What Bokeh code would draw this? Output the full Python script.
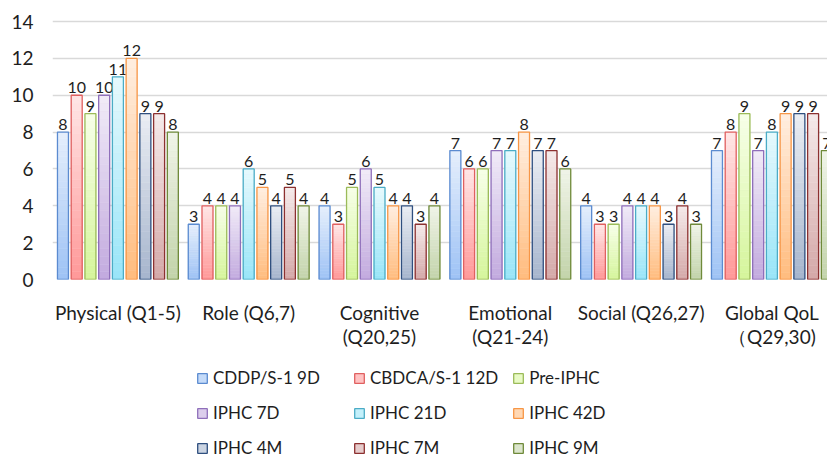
import numpy as np
from bokeh.plotting import figure
from bokeh.layouts import column
from bokeh.models import FixedTicker, Legend, LegendItem, Range1d, ColumnDataSource
from bokeh.embed import file_html
from bokeh.resources import INLINE
from bokeh.core.properties import value

# ---------------- data ----------------
categories = ["Physical (Q1-5)", "Role (Q6,7)", "Cognitive\n(Q20,25)",
              "Emotional\n(Q21-24)", "Social (Q26,27)", "Global QoL\n\uff08Q29,30)"]
series_names = ["CDDP/S-1 9D", "CBDCA/S-1 12D", "Pre-IPHC",
                "IPHC 7D", "IPHC 21D", "IPHC 42D",
                "IPHC 4M", "IPHC 7M", "IPHC 9M"]
cddp_s1_9d = [8, 3, 4, 7, 4, 7]
cbdca_s1_12d = [10, 4, 3, 6, 3, 8]
pre_iphc = [9, 4, 5, 6, 3, 9]
iphc_7d = [10, 4, 6, 7, 4, 7]
iphc_21d = [11, 6, 5, 7, 4, 8]
iphc_42d = [12, 5, 4, 8, 4, 9]
iphc_4m = [9, 4, 4, 7, 3, 9]
iphc_7m = [9, 5, 3, 7, 4, 9]
iphc_9m = [8, 4, 4, 6, 3, 7]
series_values = [cddp_s1_9d, cbdca_s1_12d, pre_iphc, iphc_7d, iphc_21d,
                 iphc_42d, iphc_4m, iphc_7m, iphc_9m]
y_ticks = [0, 2, 4, 6, 8, 10, 12, 14]

# ---------------- styles ----------------
# (top colour, bottom colour, outline)
styles = [
    ("#e6effc", "#9dc2f5", "#5b8bd0"),
    ("#ffe6e6", "#ff9898", "#e06060"),
    ("#f7ffe8", "#d5f59b", "#9bbb59"),
    ("#f1ebf8", "#c2aade", "#8f6fba"),
    ("#e6f9fd", "#98e5f8", "#4bacc6"),
    ("#ffeee0", "#ffbc7e", "#f79646"),
    ("#eaedf3", "#a6b5cd", "#2f4f7f"),
    ("#f5eaea", "#d4a8a8", "#8c3030"),
    ("#f0f4e8", "#c2d3aa", "#6f8a3a"),
]
FONT = "Lato"
TXT = "#1e1e1e"

def hex2rgb(h):
    h = h.lstrip("#")
    return np.array([int(h[i:i + 2], 16) for i in (0, 2, 4)], dtype=float)

def rgb2hex(c):
    c = np.clip(np.round(c), 0, 255).astype(int)
    return "#%02x%02x%02x" % tuple(c)

n_cat = len(categories)
n_ser = len(series_names)
pitch = 0.105
bar_w = 0.084
x_end = 775 / 130.8

W = 827
H1 = 360
H2 = 458 - H1

p = figure(width=W, height=H1, output_backend="svg", toolbar_location=None,
           x_range=Range1d(0, x_end), y_range=Range1d(0, 14.33),
           min_border_left=52, min_border_right=0, min_border_top=15,
           min_border_bottom=H1 - 279)
p.outline_line_color = None
p.background_fill_color = "white"
p.border_fill_color = "white"

centers = np.arange(n_cat) + 0.5
N = 24
for j, (name, vals) in enumerate(zip(series_names, series_values)):
    top_c, bot_c, line_c = styles[j]
    xs = centers + (j - (n_ser - 1) / 2) * pitch
    vals = np.array(vals, dtype=float)
    left = xs - bar_w / 2
    right = xs + bar_w / 2
    # vertical gradient slices of each bar
    L, R, B, T, C = [], [], [], [], []
    t0, b0 = hex2rgb(top_c), hex2rgb(bot_c)
    for i in range(n_cat):
        v = vals[i]
        for k in range(N):
            f = (k + 0.5) / N
            L.append(left[i]); R.append(right[i])
            B.append(v * k / N); T.append(v * (k + 1) / N)
            C.append(rgb2hex(b0 + (t0 - b0) * f))
    src = ColumnDataSource(dict(left=L, right=R, bottom=B, top=T, color=C))
    p.quad(left="left", right="right", bottom="bottom", top="top", source=src,
           fill_color="color", line_color="color", line_width=0.6)
    p.quad(left=left, right=right, bottom=0, top=vals,
           fill_alpha=0, line_color=line_c, line_width=1.3)
    labels = [str(int(v)) for v in vals]
    p.text(x=xs, y=vals, text=labels, text_align="center", text_baseline="bottom",
           y_offset=-2, text_font=value(FONT), text_font_size="16px",
           text_color=TXT)

# axes
p.yaxis.ticker = FixedTicker(ticks=y_ticks)
p.yaxis.axis_line_color = None
p.yaxis.major_tick_line_color = None
p.yaxis.minor_tick_line_color = None
p.yaxis.major_tick_out = 0
p.yaxis.major_tick_in = 0
p.yaxis.major_label_standoff = 19
p.yaxis.major_label_text_font = FONT
p.yaxis.major_label_text_font_size = "19px"
p.yaxis.major_label_text_color = TXT

p.xaxis.ticker = FixedTicker(ticks=list(centers))
p.xaxis.major_label_overrides = {float(c): lab for c, lab in zip(centers, categories)}
p.xaxis.axis_line_color = None
p.xaxis.major_tick_line_color = None
p.xaxis.minor_tick_line_color = None
p.xaxis.major_tick_out = 0
p.xaxis.major_tick_in = 0
p.xaxis.major_label_standoff = 21
p.xaxis.major_label_text_font = FONT
p.xaxis.major_label_text_font_size = "19px"
p.xaxis.major_label_text_color = TXT
p.xaxis.major_label_text_line_height = 1.05

p.xgrid.grid_line_color = None
p.ygrid.ticker = FixedTicker(ticks=y_ticks)
p.ygrid.grid_line_color = "#d9d9d9"
p.ygrid.grid_line_width = 1.5

# ---------------- legend figure ----------------
p2 = figure(width=W, height=H2, output_backend="svg", toolbar_location=None,
            x_range=Range1d(0, 1), y_range=Range1d(0, 1),
            x_axis_type=None, y_axis_type=None,
            min_border_left=0, min_border_right=0, min_border_top=0,
            min_border_bottom=0)
p2.outline_line_color = None
p2.background_fill_color = "white"
p2.border_fill_color = "white"

items = []
for j, name in enumerate(series_names):
    top_c, bot_c, line_c = styles[j]
    mid = rgb2hex(hex2rgb(top_c) * 0.55 + hex2rgb(bot_c) * 0.45)
    # legend proxy, placed outside the visible range
    r = p2.quad(left=[5], right=[6], bottom=[5], top=[6],
                fill_color=mid, line_color=line_c, line_width=1.3)
    items.append(LegendItem(label=name, renderers=[r]))

lg = Legend(items=items, orientation="horizontal", ncols=3,
            location=(144, 0),
            glyph_width=12, glyph_height=12, label_standoff=5, spacing=14,
            label_height=19, label_width=126, padding=0, margin=0,
            border_line_color=None, background_fill_alpha=0,
            label_text_font=FONT, label_text_font_size="17px",
            label_text_color=TXT)
p2.add_layout(lg, "center")

layout = column(p, p2, spacing=0)
open("out.html", "w").write(file_html(layout, INLINE))
